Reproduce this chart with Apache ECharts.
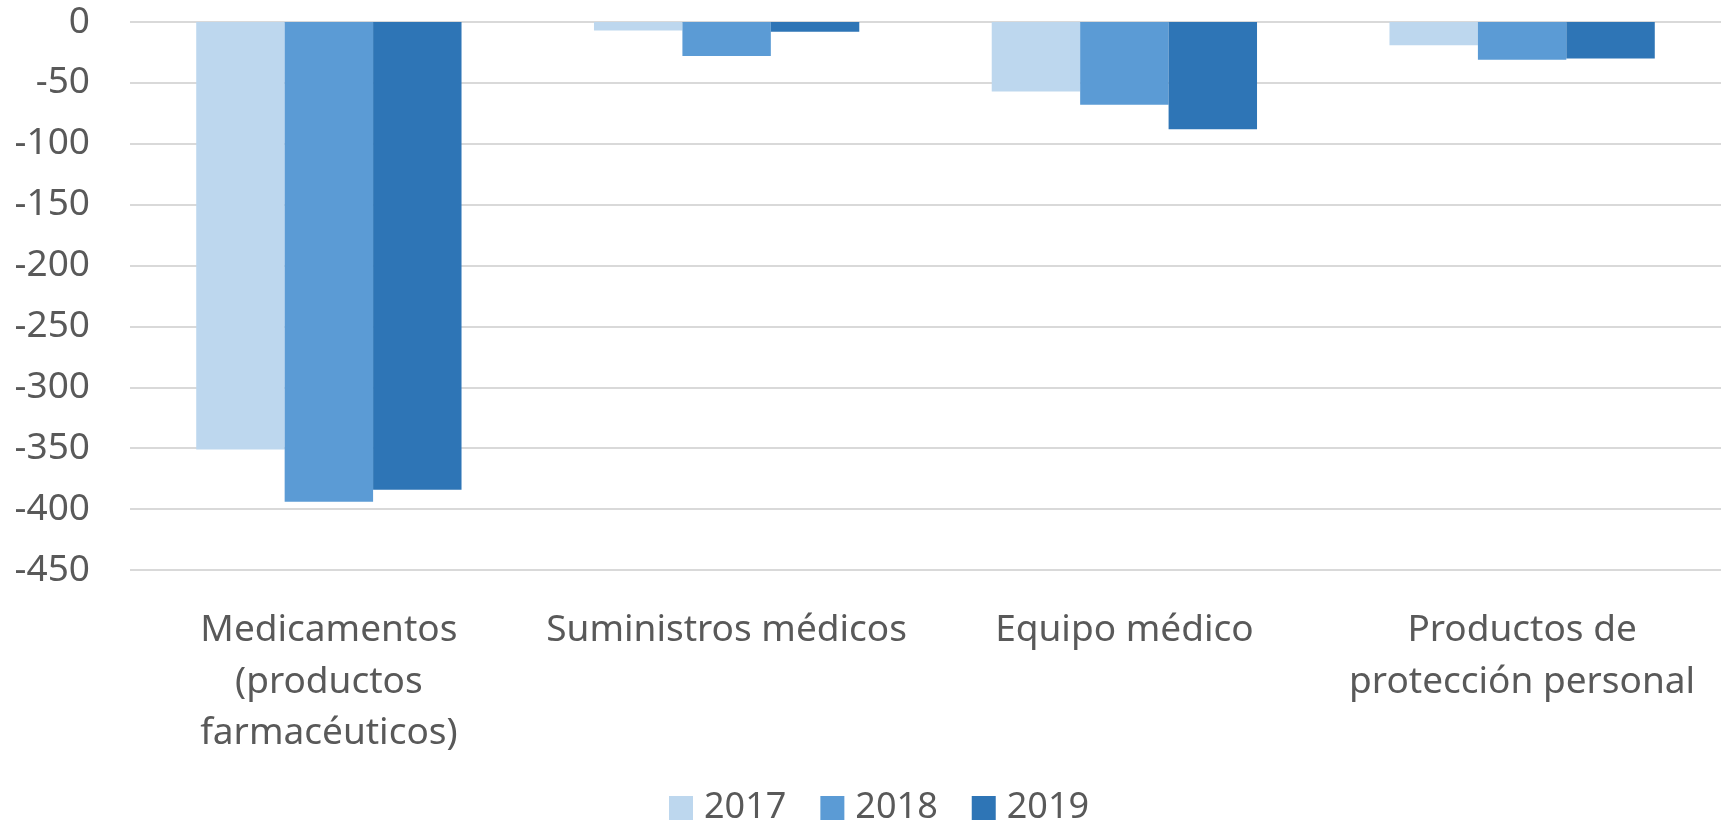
<!DOCTYPE html>
<html>
<head>
<meta charset="utf-8">
<script src="https://cdn.jsdelivr.net/npm/echarts@6/dist/echarts.min.js"></script>
<style>
html,body{margin:0;padding:0;background:#fff;}
#chart{width:1721px;height:821px;}
</style>
</head>
<body>
<div id="chart"></div>
<script>
const categories = ["Medicamentos\n(productos\nfarmacéuticos)", "Suministros médicos", "Equipo médico", "Productos de\nprotección personal"];
const years = ["2017", "2018", "2019"];
const values2017 = [-351, -7, -57, -19];
const values2018 = [-394, -28, -68, -31];
const values2019 = [-384, -8, -88, -30];
const yTicks = [0, -50, -100, -150, -200, -250, -300, -350, -400, -450];
const colors = ["#BDD7EE", "#5B9BD5", "#2E75B6"];

const font = "'Noto Sans', sans-serif";
const chart = echarts.init(document.getElementById('chart'));
const seriesData = [values2017, values2018, values2019];
chart.setOption({
  animation: false,
  color: colors,
  grid: { left: 130, right: 0, top: 22, bottom: 251, containLabel: false },
  legend: {
    data: years,
    left: 664,
    bottom: -10,
    itemWidth: 24,
    itemHeight: 24,
    itemGap: 34,
    icon: 'rect',
    textStyle: { fontFamily: font, fontSize: 36, color: '#595959', padding: [0, 0, 0, 6] }
  },
  xAxis: {
    type: 'category',
    data: categories,
    position: 'bottom',
    axisLine: { show: false },
    axisTick: { show: false },
    axisLabel: {
      interval: 0,
      margin: 35,
      fontFamily: font, fontSize: 37, color: '#595959', lineHeight: 51.5
    }
  },
  yAxis: {
    type: 'value',
    min: -450, max: 0, interval: 50,
    axisLine: { show: false },
    axisTick: { show: false },
    splitLine: { lineStyle: { color: '#D9D9D9', width: 2 } },
    axisLabel: { margin: 40, fontFamily: font, fontSize: 37, color: '#595959' }
  },
  series: years.map((y, i) => ({
    name: y,
    type: 'bar',
    data: seriesData[i],
    barGap: '0%',
    barCategoryGap: '33.3%',
    itemStyle: { color: colors[i] }
  }))
});
</script>
</body>
</html>
